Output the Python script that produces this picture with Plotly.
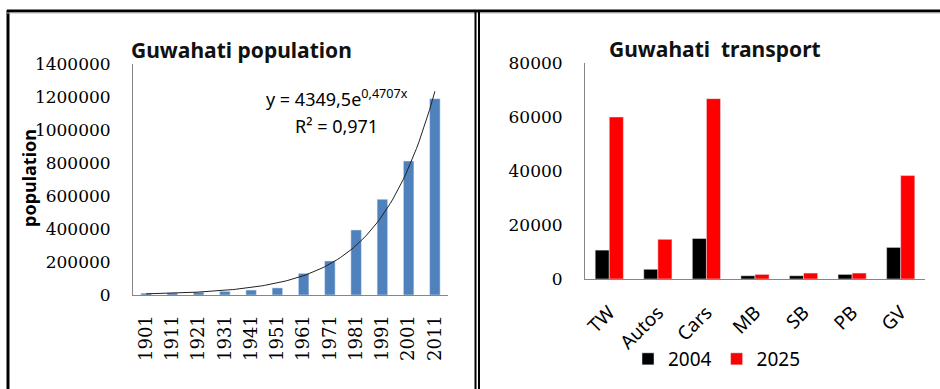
import math
import plotly.graph_objects as go

W, H = 940, 389

# ---- data ----
years = ["1901", "1911", "1921", "1931", "1941", "1951", "1961", "1971", "1981", "1991", "2001", "2011"]
population = [11000, 12500, 16500, 22000, 30000, 43000, 131000, 206000, 394000, 580000, 812000, 1190000]
trend_a = 4349.5
trend_b = 0.4707

vehicles = ["TW", "Autos", "Cars", "MB", "SB", "PB", "GV"]
v2004 = [10700, 3600, 15000, 1200, 1200, 1700, 11700]
v2025 = [60000, 14700, 66800, 1700, 2200, 2200, 38300]

idx = list(range(1, len(years) + 1))
n_fine = 111
tx = [1 + (len(years) - 1) * i / (n_fine - 1) for i in range(n_fine)]
ty = [trend_a * math.exp(trend_b * x) for x in tx]


def px(x):
    return x / W


def py(y):
    return 1 - y / H


serif = "DejaVu Serif"
sans = "Noto Sans"

fig = go.Figure()
fig.add_trace(go.Bar(x=idx, y=population, marker_color="#4F81BD", width=0.4,
                     showlegend=False, xaxis="x", yaxis="y"))
fig.add_trace(go.Scatter(x=tx, y=ty, mode="lines", line=dict(color="#222222", width=1),
                         showlegend=False, xaxis="x", yaxis="y", hoverinfo="skip"))
fig.add_trace(go.Bar(x=vehicles, y=v2004, name="2004", marker_color="#000000",
                     xaxis="x2", yaxis="y2"))
fig.add_trace(go.Bar(x=vehicles, y=v2025, name="2025", marker_color="#FF0000",
                     xaxis="x2", yaxis="y2"))

axis_line = dict(showline=True, linecolor="#868686", linewidth=1, showgrid=False,
                 zeroline=False, ticks="", automargin=False)

fig.update_layout(
    width=W, height=H,
    margin=dict(l=0, r=0, t=0, b=0, pad=0, autoexpand=False),
    paper_bgcolor="white", plot_bgcolor="white",
    barmode="group", bargap=0.42, bargroupgap=0,
    xaxis=dict(domain=[px(133), px(448)], anchor="y", range=[0.5, 12.5],
               tickvals=idx, ticktext=years, tickangle=-90,
               tickfont=dict(family=serif, size=18, color="black"),
               ticklabelstandoff=12, **axis_line),
    yaxis=dict(domain=[py(295), py(64)], anchor="x", range=[0, 1400000], dtick=200000,
               tickformat="d", tickfont=dict(family=serif, size=17, color="black"),
               ticklabelstandoff=18, **axis_line),
    xaxis2=dict(domain=[px(585), px(925)], anchor="y2", tickangle=-45,
                tickfont=dict(family=sans, size=19, color="black"),
                ticklabelstandoff=14, **axis_line),
    yaxis2=dict(domain=[py(279), py(63)], anchor="x2", range=[0, 80000], dtick=20000,
                tickformat="d", tickfont=dict(family=serif, size=17, color="black"),
                ticklabelstandoff=18, **axis_line),
    legend=dict(orientation="h", x=px(717), xanchor="center", y=py(359), yanchor="middle",
                font=dict(family=sans, size=19, color="black"),
                itemwidth=30, bgcolor="rgba(0,0,0,0)"),
    font=dict(family=sans, color="black"),
)

annotations = [
    dict(text="<b>Guwahati population</b>", x=px(241), y=py(50), xref="paper", yref="paper",
         xanchor="center", yanchor="middle",
         showarrow=False, font=dict(family=sans, size=21, color="#111")),
    dict(text="<b>Guwahati&nbsp; transport</b>", x=px(715), y=py(49), xref="paper", yref="paper",
         xanchor="center", yanchor="middle",
         showarrow=False, font=dict(family=sans, size=21, color="#111")),
    dict(text="<b>population</b>", x=px(29), y=py(178), xref="paper", yref="paper",
         xanchor="center", yanchor="middle",
         textangle=-90, showarrow=False, font=dict(family=sans, size=18, color="black")),
    dict(text="y = 4349,5e<sup>0,4707x</sup>", x=px(337), y=py(98), xref="paper", yref="paper",
         xanchor="center", yanchor="middle",
         showarrow=False, font=dict(family=sans, size=18, color="black")),
    dict(text="R² = 0,971", x=px(336), y=py(126), xref="paper", yref="paper",
         xanchor="center", yanchor="middle",
         showarrow=False, font=dict(family=sans, size=18, color="black")),
]
fig.update_layout(annotations=annotations)

shapes = [
    dict(type="line", xref="paper", yref="paper", x0=px(8), x1=px(8), y0=0, y1=py(10),
         line=dict(color="black", width=3)),
    dict(type="line", xref="paper", yref="paper", x0=px(7), x1=1, y0=py(11), y1=py(11),
         line=dict(color="black", width=3)),
    dict(type="line", xref="paper", yref="paper", x0=px(7), x1=1, y0=py(13), y1=py(13),
         line=dict(color="#BBBBBB", width=1)),
    dict(type="line", xref="paper", yref="paper", x0=px(475.5), x1=px(475.5), y0=0, y1=py(10),
         line=dict(color="black", width=2)),
    dict(type="line", xref="paper", yref="paper", x0=px(479), x1=px(479), y0=0, y1=py(10),
         line=dict(color="black", width=2)),
]
fig.update_layout(shapes=shapes)

fig.write_html(
    "out.html",
    config={"displayModeBar": False},
    post_script="document.body.style.margin='0px';document.documentElement.style.overflow='hidden';",
)
